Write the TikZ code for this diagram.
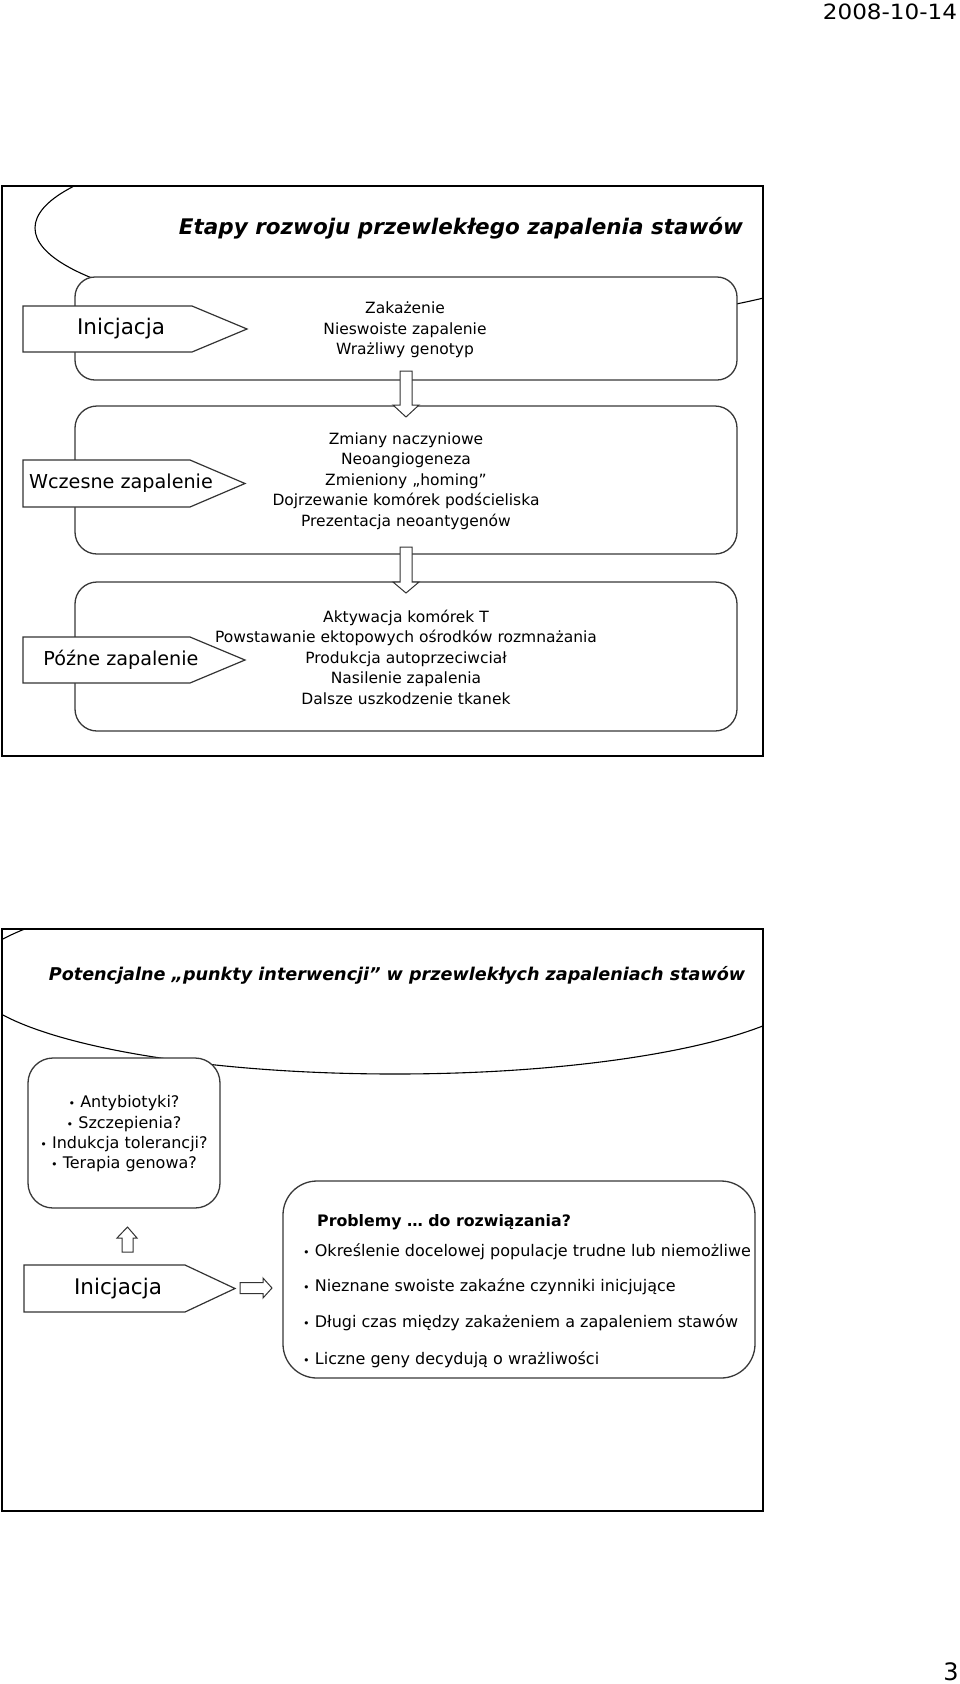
\documentclass[tikz,border=0pt]{standalone}
\usepackage{fontspec}
\setmainfont{DejaVu Sans}
\usepackage{graphicx}
\begin{document}
\begin{tikzpicture}[x=1pt,y=-1pt,
  slide/.style={draw=black, line width=1.8pt},
  oval/.style={draw=black, line width=1.1pt},
  rbox/.style={draw=black!78, line width=1.3pt, fill=white},
  tagbox/.style={draw=black!80, line width=1.2pt, fill=white},
  blk/.style={draw=black!80, line width=1pt, fill=white},
  body/.style={font=\fontsize{15.5}{20.5}\selectfont, align=center, inner sep=0pt},
  lab/.style={font=\fontsize{19.2}{24}\selectfont, inner sep=0pt},
  ttlA/.style={font=\fontsize{21.5}{26}\selectfont\bfseries\itshape, inner sep=0pt},
  ttlB/.style={font=\fontsize{17.6}{22}\selectfont\bfseries\itshape, inner sep=0pt},
  prob/.style={font=\fontsize{16}{20}\selectfont, inner sep=0pt, anchor=west},
  hdr/.style={font=\fontsize{21}{24}\selectfont, inner sep=0pt}
]
\useasboundingbox (0,0) rectangle (960,1684);
\newcommand{\bul}{\scalebox{0.7}{•}}

% header and page number
\node[hdr] (date) at (890,12) {\scalebox{1.1}[1]{2008-10-14}};
\node[font=\fontsize{24}{26}\selectfont, inner sep=0pt] (page) at (951,1672) {3};

% ================= slide 1 =================
\begin{scope}
  \clip (2,186) rectangle (763,756);
  \draw[oval] (460,228) ellipse [x radius=425, y radius=100];
\end{scope}
\draw[slide] (2,186) rectangle (763,756);
\node[ttlA] (t1) at (461,228) {Etapy rozwoju przewlekłego zapalenia stawów};

% boxes
\draw[rbox, rounded corners=20] (75,277) rectangle (737,380);
\draw[rbox, rounded corners=22] (75,406) rectangle (737,554);
\draw[rbox, rounded corners=22] (75,582) rectangle (737,731);

% stage tags
\draw[tagbox] (23,306) -- (192,306) -- (247,329) -- (192,352) -- (23,352) -- cycle;
\node[lab, font=\fontsize{21.5}{24}\selectfont] (s1) at (121,329) {Inicjacja};
\draw[tagbox] (23,460) -- (190,460) -- (245,483.5) -- (190,507) -- (23,507) -- cycle;
\node[lab] (s2) at (121,483.5) {Wczesne zapalenie};
\draw[tagbox] (23,637) -- (190,637) -- (245,660) -- (190,683) -- (23,683) -- cycle;
\node[lab] (s3) at (121,660) {Późne zapalenie};

% box texts
\node[body] (b1) at (405,330) {Zakażenie\\Nieswoiste zapalenie\\Wrażliwy genotyp};
\node[body] (b2) at (406,481) {Zmiany naczyniowe\\Neoangiogeneza\\Zmieniony „homing”\\Dojrzewanie komórek podścieliska\\Prezentacja neoantygenów};
\node[body] (b3) at (406,657) {Aktywacja komórek T\\Powstawanie ektopowych ośrodków rozmnażania\\Produkcja autoprzeciwciał\\Nasilenie zapalenia\\Dalsze uszkodzenie tkanek};

% down arrows
\draw[blk] (400,371) -- (412,371) -- (412,405) -- (419,405) -- (406,417) -- (393,405) -- (400,405) -- cycle;
\draw[blk] (400,547) -- (412,547) -- (412,582) -- (419,582) -- (406,593) -- (393,582) -- (400,582) -- cycle;

% ================= slide 2 =================
\begin{scope}
  \clip (2,929) rectangle (763,1511);
  \draw[oval] (395,977) ellipse [x radius=426, y radius=97];
\end{scope}
\draw[slide] (2,929) rectangle (763,1511);
\node[ttlB] (t2) at (397,975) {Potencjalne „punkty interwencji” w przewlekłych zapaleniach stawów};

\draw[rbox, rounded corners=25] (28,1058) rectangle (220,1208);
\node[body, font=\fontsize{16}{20.3}\selectfont] (bl) at (124,1134) {\bul{} Antybiotyki?\\\bul{} Szczepienia?\\\bul{} Indukcja tolerancji?\\\bul{} Terapia genowa?};

\draw[rbox, rounded corners=34] (283,1181) rectangle (755,1378);
\node[prob, font=\fontsize{15.8}{20}\selectfont\bfseries] (p0) at (317,1222) {Problemy … do rozwiązania?};
\node[prob] (p1) at (303,1252) {\bul{} Określenie docelowej populacje trudne lub niemożliwe};
\node[prob] (p2) at (303,1287) {\bul{} Nieznane swoiste zakaźne czynniki inicjujące};
\node[prob] (p3) at (303,1323) {\bul{} Długi czas między zakażeniem a zapaleniem stawów};
\node[prob] (p4) at (303,1360) {\bul{} Liczne geny decydują o wrażliwości};

\draw[tagbox] (24,1265) -- (185,1265) -- (235,1288.5) -- (185,1312) -- (24,1312) -- cycle;
\node[lab, font=\fontsize{21.5}{24}\selectfont] (s4) at (118,1288.5) {Inicjacja};

% up arrow
\draw[blk] (122,1252) -- (133,1252) -- (133,1238) -- (137,1238) -- (127.5,1227) -- (117,1238) -- (122,1238) -- cycle;
% right arrow
\draw[blk] (240,1282.5) -- (263,1282.5) -- (263,1278) -- (272,1288) -- (263,1298) -- (263,1293.5) -- (240,1293.5) -- cycle;
\end{tikzpicture}
\end{document}
